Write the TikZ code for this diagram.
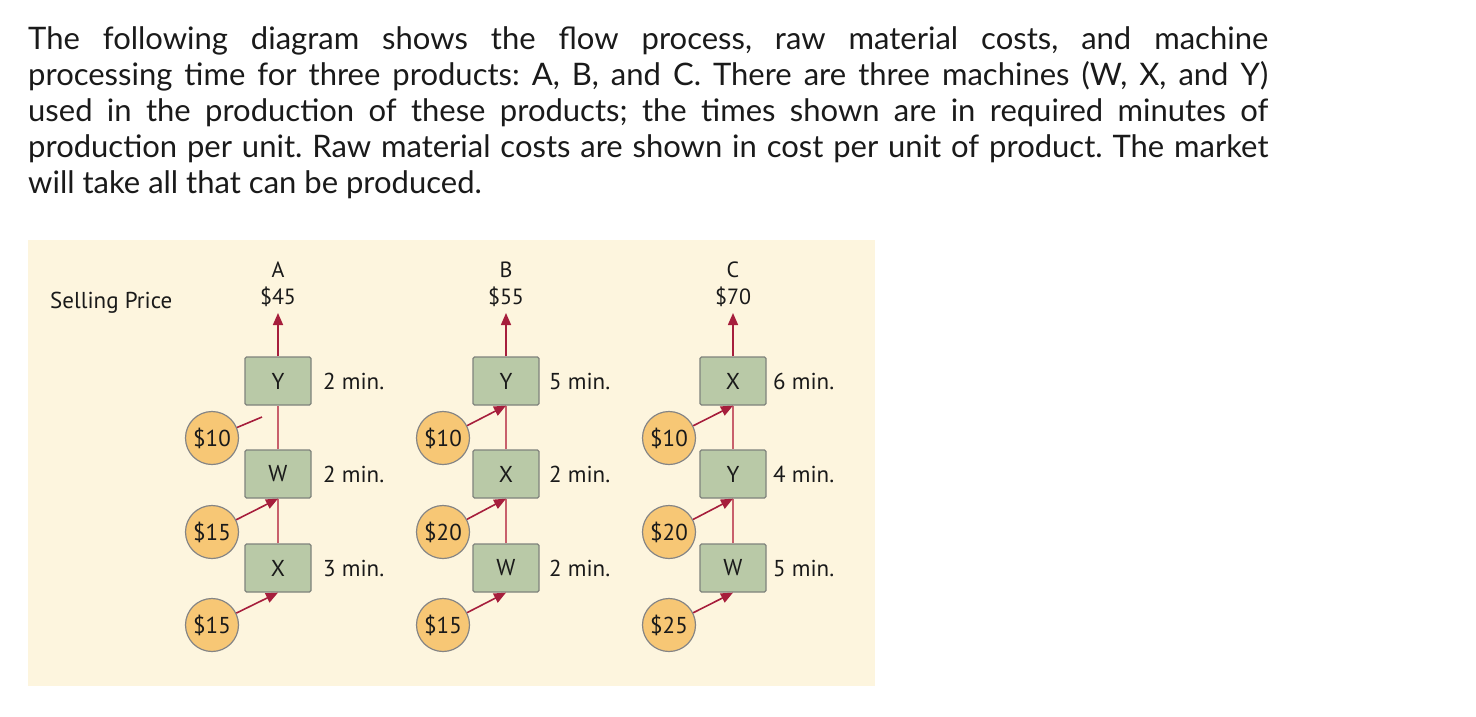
\documentclass[tikz,border=0pt]{standalone}
\usepackage{fontspec}
\setmainfont{Lato}
\newfontfamily\dfont{PT Sans}
\usetikzlibrary{arrows.meta}
\definecolor{panelbg}{HTML}{FDF5DE}
\definecolor{boxfill}{HTML}{B9C9A7}
\definecolor{boxline}{HTML}{7F837C}
\definecolor{costfill}{HTML}{F7C775}
\definecolor{costline}{HTML}{858585}
\definecolor{linkred}{HTML}{C8606C}
\definecolor{arrred}{HTML}{A61E3C}
\definecolor{txt}{HTML}{1A1A1A}
\begin{document}
\begin{tikzpicture}[x=1pt,y=-1pt,
  dtext/.style={text=txt, font=\dfont\fontsize{23}{26}\selectfont},
  mbox/.style={dtext, draw=boxline, fill=boxfill, rounded corners=1.5pt, line width=1.3pt,
    minimum width=66pt, minimum height=48pt, inner sep=0pt},
  cost/.style={dtext, circle, draw=costline, fill=costfill, line width=1.2pt, minimum size=53pt,
    inner sep=0pt},
  lbl/.style={dtext, anchor=west, inner sep=0pt},
  price/.style={align=center, inner sep=0pt, text=txt, font=\dfont\fontsize{22}{27}\selectfont},
  flow/.style={draw=linkred, line width=1.6pt},
  arr/.style={draw=arrred, line width=1.6pt, -{Triangle[length=12pt,width=10pt]}},
  feed/.style={draw=arrred, line width=1.6pt}
]
\useasboundingbox (0,0) rectangle (1476,716);
\fill[white] (0,0) rectangle (1476,716);
\node[anchor=north west, text width=1240pt, align=justify, inner sep=0pt, text=txt,
  font=\fontsize{31}{36}\selectfont\frenchspacing] (para) at (28,26)
  {The following diagram shows the flow process, raw material costs, and machine\linebreak
   processing time for three products: A, B, and C. There are three machines (W, X, and Y)\linebreak
   used in the production of these products; the times shown are in required minutes of\linebreak
   production per unit. Raw material costs are shown in cost per unit of product. The market\linebreak
   will take all that can be produced.};
\node[fill=panelbg, minimum width=847pt, minimum height=446pt, inner sep=0pt, anchor=north west] (panel) at (28,240) {};
\node[lbl] (sp) at (50,303) {Selling Price};

% Product A
\node[price] (pA) at (278,284) {A\\\$45};
\coordinate (tA) at (278,313);
\node[mbox] (A1) at (278,381) {Y};
\node[mbox] (A2) at (278,474) {W};
\node[mbox] (A3) at (278,568) {X};
\node[lbl] (tA1) at (323,381) {2 min.};
\node[lbl] (tA2) at (323,474) {2 min.};
\node[lbl] (tA3) at (323,568) {3 min.};
\node[cost] (cA1) at (212,438) {\$10};
\node[cost] (cA2) at (212,532) {\$15};
\node[cost] (cA3) at (212,625) {\$15};
\coordinate (eA1) at (262,417);
\draw[arr] (A1.north) -- (tA);
\draw[flow] (A2.north) -- (A1.south);
\draw[flow] (A3.north) -- (A2.south);
\draw[feed] (cA1) -- (eA1);
\draw[arr] (cA2) -- (A2.south);
\draw[arr] (cA3) -- (A3.south);

% Product B
\node[price] (pB) at (506,284) {B\\\$55};
\coordinate (tB) at (506,313);
\node[mbox] (B1) at (506,381) {Y};
\node[mbox] (B2) at (506,474) {X};
\node[mbox] (B3) at (506,568) {W};
\node[lbl] (tB1) at (549,381) {5 min.};
\node[lbl] (tB2) at (549,474) {2 min.};
\node[lbl] (tB3) at (549,568) {2 min.};
\node[cost] (cB1) at (443,438) {\$10};
\node[cost] (cB2) at (443,532) {\$20};
\node[cost] (cB3) at (443,625) {\$15};
\draw[arr] (B1.north) -- (tB);
\draw[flow] (B2.north) -- (B1.south);
\draw[flow] (B3.north) -- (B2.south);
\draw[arr] (cB1) -- (B1.south);
\draw[arr] (cB2) -- (B2.south);
\draw[arr] (cB3) -- (B3.south);

% Product C
\node[price] (pC) at (733,284) {C\\\$70};
\coordinate (tC) at (733,313);
\node[mbox] (C1) at (733,381) {X};
\node[mbox] (C2) at (733,474) {Y};
\node[mbox] (C3) at (733,568) {W};
\node[lbl] (tC1) at (773,381) {6 min.};
\node[lbl] (tC2) at (773,474) {4 min.};
\node[lbl] (tC3) at (773,568) {5 min.};
\node[cost] (cC1) at (669,438) {\$10};
\node[cost] (cC2) at (669,532) {\$20};
\node[cost] (cC3) at (669,625) {\$25};
\draw[arr] (C1.north) -- (tC);
\draw[flow] (C2.north) -- (C1.south);
\draw[flow] (C3.north) -- (C2.south);
\draw[arr] (cC1) -- (C1.south);
\draw[arr] (cC2) -- (C2.south);
\draw[arr] (cC3) -- (C3.south);
\end{tikzpicture}
\end{document}
